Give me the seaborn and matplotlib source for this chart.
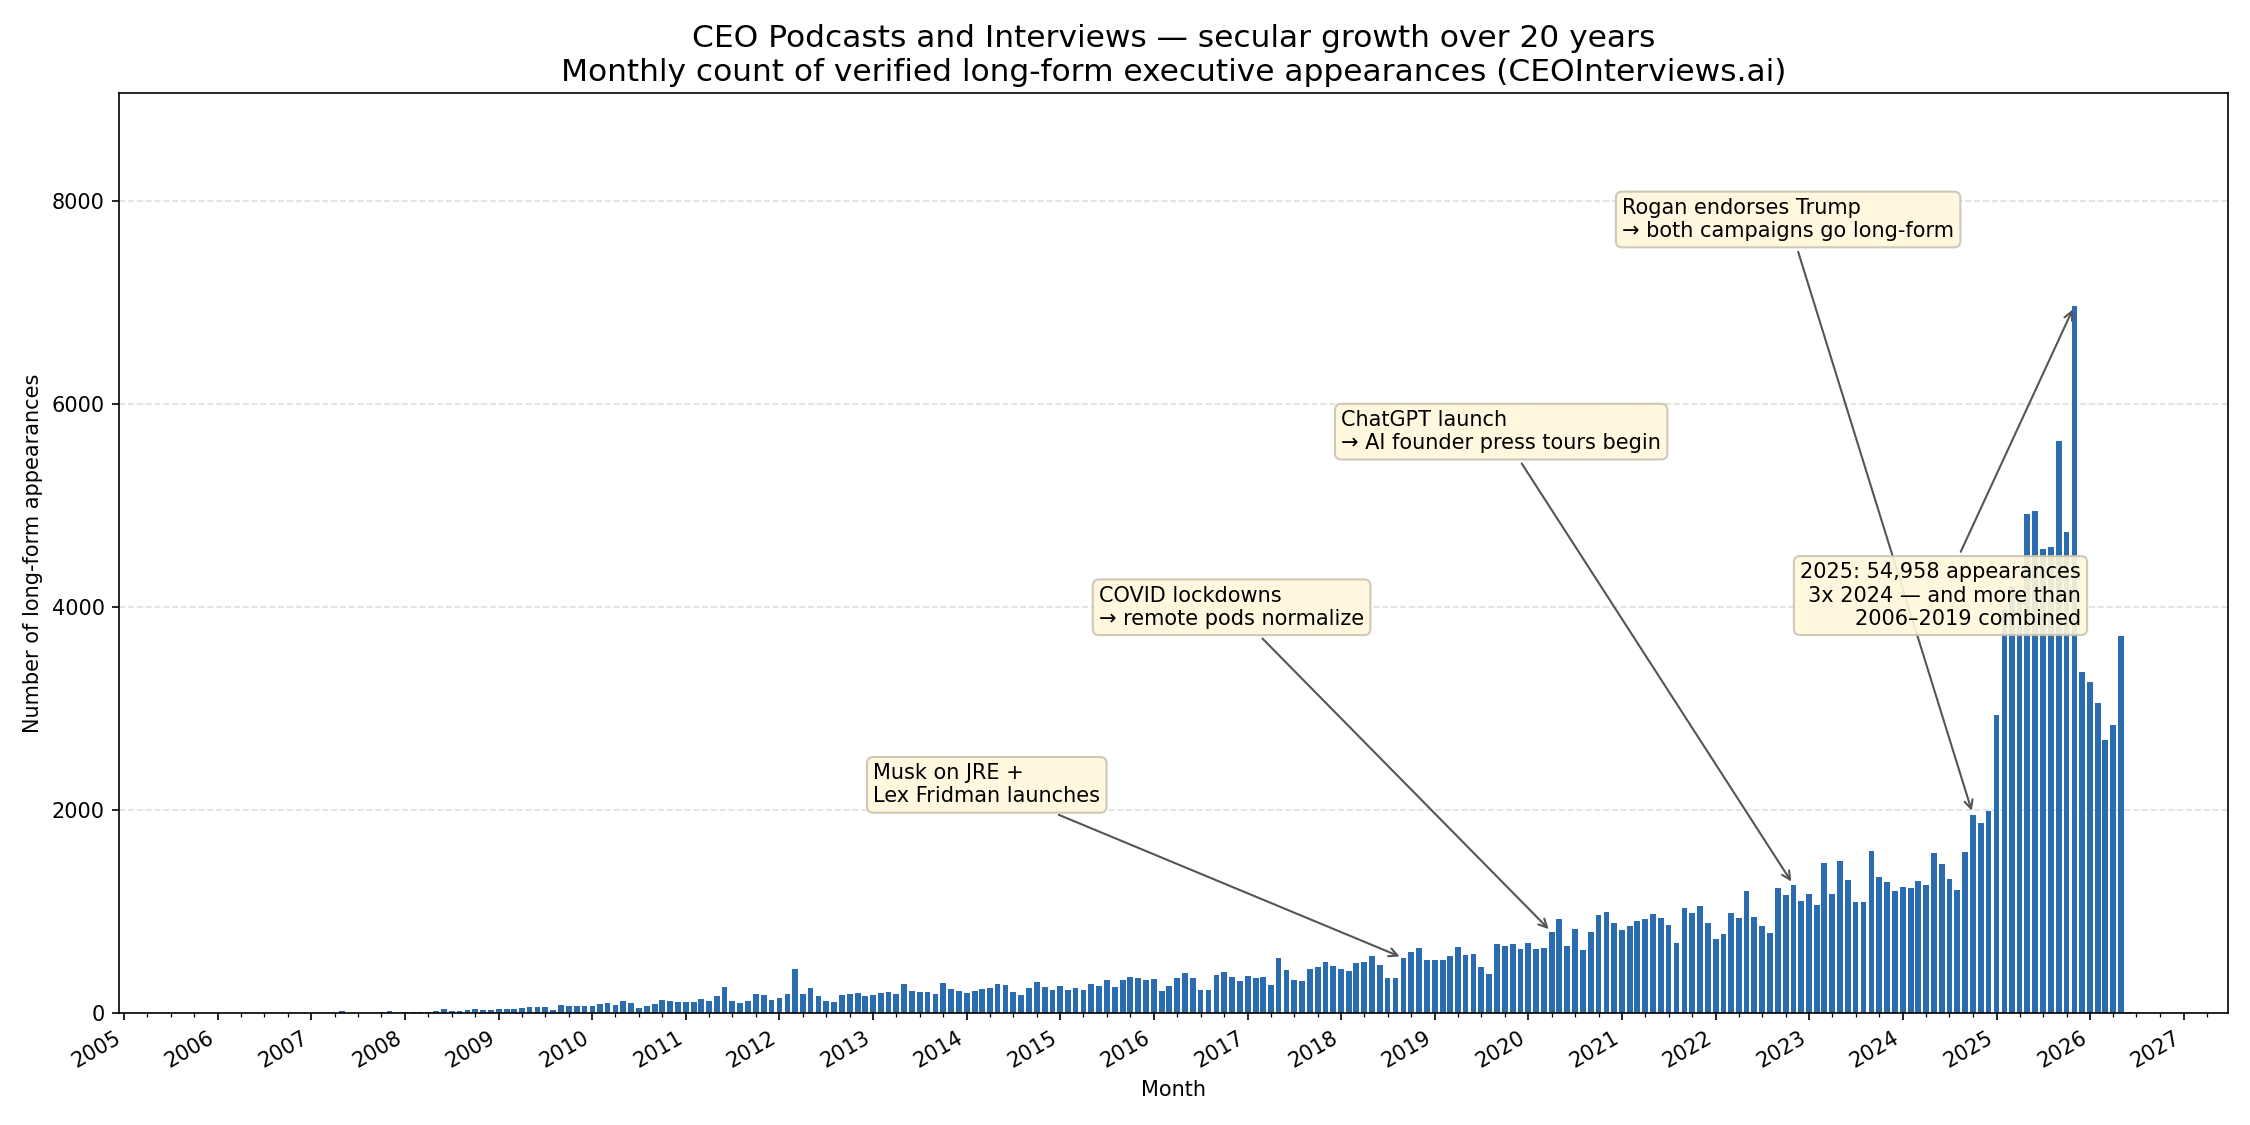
import matplotlib
matplotlib.use("Agg")
import matplotlib.pyplot as plt
import matplotlib.dates as mdates
import seaborn as sns
import pandas as pd

# Contagem mensal de aparicoes, uma lista por ano
counts_2006 = [0, 0, 1, 0, 1, 2, 1, 0, 1, 2, 3, 1]
counts_2007 = [2, 3, 4, 3, 23, 2, 1, 3, 4, 10, 20, 2]
counts_2008 = [10, 10, 10, 12, 23, 43, 23, 23, 33, 43, 33, 33]
counts_2009 = [43, 43, 43, 52, 62, 62, 62, 33, 82, 72, 72, 72]
counts_2010 = [72, 92, 102, 82, 121, 102, 52, 72, 92, 131, 121, 112]
counts_2011 = [112, 112, 141, 121, 171, 259, 121, 102, 121, 190, 180, 131]
counts_2012 = [151, 190, 436, 190, 249, 171, 121, 112, 180, 190, 200, 171]
counts_2013 = [180, 200, 210, 190, 289, 220, 210, 210, 190, 298, 239, 220]
counts_2014 = [200, 220, 239, 249, 289, 279, 210, 180, 249, 308, 259, 230]
counts_2015 = [269, 230, 249, 230, 289, 269, 328, 259, 328, 358, 348, 328]
counts_2016 = [338, 220, 269, 348, 397, 348, 230, 230, 377, 407, 358, 318]
counts_2017 = [367, 348, 358, 279, 544, 426, 328, 318, 436, 456, 505, 466]
counts_2018 = [436, 417, 495, 505, 564, 476, 348, 348, 544, 604, 643, 525]
counts_2019 = [525, 525, 564, 653, 574, 584, 456, 387, 682, 663, 682, 633]
counts_2020 = [692, 633, 643, 800, 928, 663, 830, 623, 800, 968, 997, 889]
counts_2021 = [820, 859, 909, 928, 977, 938, 869, 692, 1036, 987, 1056, 889]
counts_2022 = [731, 781, 987, 938, 1204, 948, 859, 790, 1233, 1164, 1263, 1105]
counts_2023 = [1174, 1066, 1479, 1174, 1499, 1312, 1096, 1096, 1597, 1342, 1292, 1204]
counts_2024 = [1245, 1235, 1299, 1265, 1583, 1466, 1319, 1216, 1593, 1956, 1877, 1995]
counts_2025 = [2941, 3980, 4210, 4071, 4922, 4951, 4569, 4598, 5642, 4745, 6971, 3358]
counts_2026 = [3260, 3059, 2696, 2843, 3721, 15]

anos = [counts_2006, counts_2007, counts_2008, counts_2009, counts_2010, counts_2011,
        counts_2012, counts_2013, counts_2014, counts_2015, counts_2016, counts_2017,
        counts_2018, counts_2019, counts_2020, counts_2021, counts_2022, counts_2023,
        counts_2024, counts_2025, counts_2026]
valores = [v for ano in anos for v in ano]
meses = pd.date_range("2006-01-01", periods=len(valores), freq="MS")

df = pd.DataFrame({"month": meses, "count": valores})
df["x"] = mdates.date2num(df["month"])

# Eventos anotados: (mes do evento, texto, posicao do texto)
eventos = [
    ("2018-09-01", "Musk on JRE +\nLex Fridman launches", "2013-01-01", 2250, "left"),
    ("2020-04-01", "COVID lockdowns\n\u2192 remote pods normalize", "2015-06-01", 4000, "left"),
    ("2022-11-01", "ChatGPT launch\n\u2192 AI founder press tours begin", "2018-01-01", 5730, "left"),
    ("2024-10-01", "Rogan endorses Trump\n\u2192 both campaigns go long-form", "2021-01-01", 7820, "left"),
    ("2025-11-01", "2025: 54,958 appearances\n3x 2024 \u2014 and more than\n2006\u20132019 combined",
     "2025-11-26", 4115, "right"),
]

fig, ax = plt.subplots(figsize=(15, 7.5), dpi=150)
sns.barplot(data=df, x="x", y="count", native_scale=True, orient="x",
            color="#2b6cb0", saturation=1, errorbar=None, linewidth=0, ax=ax)

lo = df["x"].iloc[0] - 11.2
hi = df["x"].iloc[-1] + 11.2
pad = 0.05 * (hi - lo)
ax.set_xlim(lo - pad, hi + pad)
ax.set_ylim(0, max(valores) * 1.3)

ax.xaxis.set_major_locator(mdates.YearLocator())
ax.xaxis.set_major_formatter(mdates.DateFormatter("%Y"))
ax.xaxis.set_minor_locator(mdates.MonthLocator(bymonth=[1, 4, 7, 10]))
plt.setp(ax.get_xticklabels(), rotation=30, ha="right")

ax.grid(axis="y", linestyle="--", alpha=0.4)
ax.set_axisbelow(True)

lookup = dict(zip(df["month"].dt.strftime("%Y-%m-%d"), df["count"]))
for mes, texto, mes_txt, y_txt, alinh in eventos:
    ax.annotate(texto,
                xy=(mdates.datestr2num(mes), lookup[mes]),
                xytext=(mdates.datestr2num(mes_txt), y_txt),
                ha=alinh, va="center", multialignment=alinh, fontsize=10,
                bbox=dict(boxstyle="round,pad=0.3", fc="#fff8dc", ec="#c9c4b2", alpha=0.9),
                arrowprops=dict(arrowstyle="->", color="#555555", lw=1))

ax.set_title("CEO Podcasts and Interviews \u2014 secular growth over 20 years\n"
             "Monthly count of verified long-form executive appearances (CEOInterviews.ai)",
             fontsize=15)
ax.set_xlabel("Month")
ax.set_ylabel("Number of long-form appearances")

plt.subplots_adjust(left=0.053, right=0.99, top=0.917, bottom=0.0993)
plt.savefig("out.png")
plt.close()
